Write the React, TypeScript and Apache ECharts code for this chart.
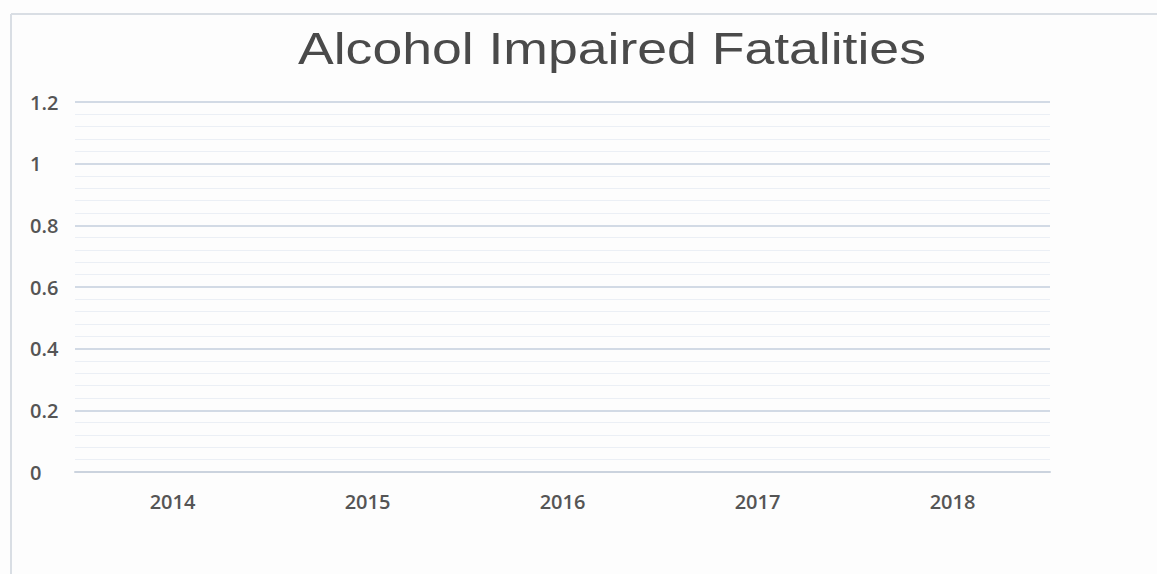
import React, { useEffect, useRef } from "react";
import * as echarts from "echarts";

const titleText = "Alcohol Impaired Fatalities";
const categories = ["2014", "2015", "2016", "2017", "2018"];
const seriesValues: (number | null)[] = [null, null, null, null, null];
const yMin = 0;
const yMax = 1.2;
const yInterval = 0.2;

export default function App() {
  const ref = useRef<HTMLDivElement>(null);
  useEffect(() => {
    if (!ref.current) return;
    const chart = echarts.init(ref.current, null, { renderer: "svg" });
    chart.setOption({
      animation: false,
      backgroundColor: "#fdfdfd",
      graphic: [
        {
          type: "line",
          shape: { x1: 11, y1: 14, x2: 1157, y2: 14 },
          style: { stroke: "#d9dee4", lineWidth: 2 },
        },
        {
          type: "line",
          shape: { x1: 11, y1: 14, x2: 11, y2: 574 },
          style: { stroke: "#d9dee4", lineWidth: 2 },
        },
        {
          type: "text",
          x: 298,
          y: 48,
          scaleX: 1.19,
          scaleY: 1,
          style: {
            text: titleText,
            fontFamily: "'Liberation Sans', Arial, sans-serif",
            fontSize: 45,
            fontWeight: "normal",
            fill: "#4a4a4a",
            align: "left",
            verticalAlign: "middle",
          },
        },
      ],
      grid: { left: 75, right: 107, top: 102, bottom: 102 },
      xAxis: {
        type: "category",
        data: categories,
        boundaryGap: true,
        axisLine: { show: true, lineStyle: { color: "#cbd3de", width: 2 } },
        axisTick: { show: false },
        axisLabel: {
          margin: 19,
          fontFamily: "'Open Sans', 'Noto Sans', sans-serif",
          fontSize: 20,
          fontWeight: 600,
          color: "#555555",
        },
      },
      yAxis: {
        type: "value",
        min: yMin,
        max: yMax,
        interval: yInterval,
        axisLine: { show: false },
        axisTick: { show: false },
        axisLabel: {
          margin: 45,
          align: "left",
          padding: [6, 0, 0, 0],
          fontFamily: "'Open Sans', 'Noto Sans', sans-serif",
          fontSize: 20,
          fontWeight: 600,
          color: "#555555",
          formatter: (v: number) => String(Math.round(v * 10) / 10),
        },
        splitLine: { show: true, lineStyle: { color: "#d2dae5", width: 2 } },
        minorTick: { show: false, splitNumber: 5 },
        minorSplitLine: { show: true, lineStyle: { color: "#ebeff5", width: 1 } },
      },
      series: [
        {
          type: "line",
          data: seriesValues,
          symbol: "none",
        },
      ],
    });
    return () => chart.dispose();
  }, []);
  return (
    <div
      ref={ref}
      style={{ position: "fixed", left: 0, top: 0, width: 1157, height: 574 }}
    />
  );
}
